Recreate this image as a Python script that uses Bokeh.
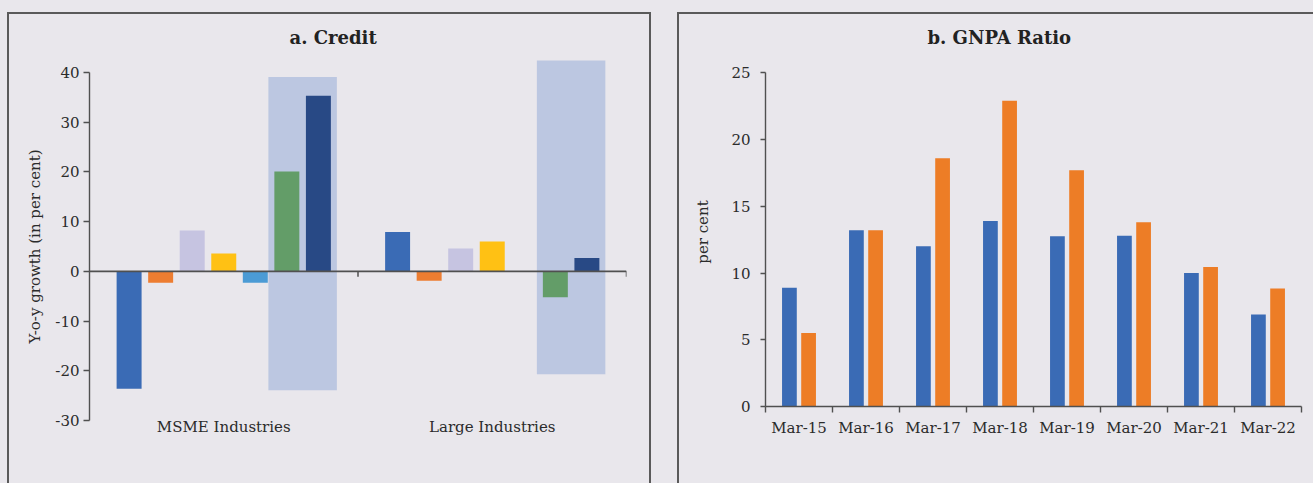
from bokeh.plotting import figure
from bokeh.layouts import row
from bokeh.models import ColumnDataSource, FixedTicker, Legend, LegendItem, Span, Range1d
from bokeh.embed import file_html
from bokeh.resources import INLINE

# ---------------- data ----------------
groups = ["MSME Industries", "Large Industries"]
credit_periods = ["Mar-16", "Mar-17", "Mar-18", "Mar-19", "Mar-20", "Mar-21", "Mar-22"]
credit_msme = [-23.6, -2.3, 8.2, 3.6, -2.3, 20.1, 35.3]
credit_large = [7.9, -1.9, 4.6, 6.0, 0.0, -5.2, 2.7]
highlight_top = [39.1, 42.4]
highlight_bottom = [-23.9, -20.7]
credit_ticks = [-30, -20, -10, 0, 10, 20, 30, 40]

gnpa_periods = ["Mar-15", "Mar-16", "Mar-17", "Mar-18", "Mar-19", "Mar-20", "Mar-21", "Mar-22"]
gnpa_msme = [8.9, 13.2, 12.0, 13.9, 12.75, 12.8, 10.0, 6.9]
gnpa_large = [5.5, 13.2, 18.6, 22.9, 17.7, 13.8, 10.45, 8.85]
gnpa_ticks = [0, 5, 10, 15, 20, 25]

credit_colors = ["#3A6BB5", "#ED7D31", "#C6C4E1", "#FFC114", "#4B9BD5", "#70AD47", "#1F3A6E"]
gnpa_colors = ["#3A6BB5", "#ED7D26"]

BG = "#E9E7EC"
FONT = "DejaVu Serif"
TXT = "#2b2b2b"
AX = "#505050"


def style_title(p, shift):
    p.title.text_font = FONT
    p.title.text_font_size = "18px"
    p.title.text_font_style = "bold"
    p.title.text_color = "#222222"
    p.title.align = "left"
    p.title.offset = shift
    try:
        p.title.standoff = p.title.standoff + 10
    except Exception:
        pass


# ---------------- panel a ----------------
p1 = figure(frame_width=537, frame_height=378, x_range=Range1d(0, len(groups)), y_range=Range1d(-33, 43),
            output_backend="svg", toolbar_location=None,
            min_border_left=80, min_border_right=23, min_border_top=42, min_border_bottom=80,
            background_fill_color=BG, border_fill_color=BG, outline_line_color=None,
            title="a. Credit")
style_title(p1, 200)

step = 0.1175
bw = 0.093
n = len(credit_periods)
items1 = []
for i, per in enumerate(credit_periods):
    off = (i - (n - 1) / 2) * step
    src = ColumnDataSource(dict(x=[k + 0.5 + off for k in range(len(groups))],
                                top=[credit_msme[i], credit_large[i]]))
    r = p1.vbar(x="x", top="top", bottom=0, width=bw, source=src,
                fill_color=credit_colors[i], line_color=None)
    items1.append(LegendItem(label=per, renderers=[r]))

off5 = (5 - (n - 1) / 2) * step
off6 = (6 - (n - 1) / 2) * step
hsrc = ColumnDataSource(dict(x=[k + 0.5 + (off5 + off6) / 2 for k in range(len(groups))],
                             top=highlight_top, bottom=highlight_bottom))
p1.vbar(x="x", top="top", bottom="bottom", width=2 * step + 0.02, source=hsrc,
        fill_color="#4472C4", fill_alpha=0.27, line_color=None)

p1.add_layout(Span(location=0, dimension="width", line_color=AX, line_width=1.8))
p1.segment(x0=list(range(1, len(groups) + 1)), y0=0, x1=list(range(1, len(groups) + 1)), y1=-1.1,
           line_color=AX, line_width=1.5)

p1.xgrid.visible = False
p1.ygrid.visible = False

xa = p1.xaxis[0]
xa.ticker = FixedTicker(ticks=[k + 0.5 for k in range(len(groups))])
xa.major_label_overrides = {k + 0.5: g for k, g in enumerate(groups)}
xa.axis_line_color = None
xa.major_tick_line_color = None
xa.major_tick_out = 0
xa.major_tick_in = 0
xa.minor_tick_line_color = None
xa.major_label_standoff = -18
xa.major_label_text_font = FONT
xa.major_label_text_font_size = "15px"
xa.major_label_text_color = TXT

ya = p1.yaxis[0]
ya.bounds = (credit_ticks[0], credit_ticks[-1])
ya.ticker = FixedTicker(ticks=credit_ticks)
ya.major_label_overrides = {t: str(t) for t in credit_ticks}
ya.axis_line_color = AX
ya.axis_line_width = 1.4
ya.major_tick_line_color = AX
ya.major_tick_line_width = 1.4
ya.major_tick_out = 6
ya.major_tick_in = 0
ya.minor_tick_line_color = None
ya.major_label_standoff = 4
ya.major_label_text_font = FONT
ya.major_label_text_font_size = "15px"
ya.major_label_text_color = TXT
ya.axis_label = "Y-o-y growth (in per cent)"
ya.axis_label_text_font = FONT
ya.axis_label_text_font_size = "15px"
ya.axis_label_text_font_style = "normal"
ya.axis_label_text_color = TXT
ya.axis_label_standoff = 8

leg1 = Legend(items=items1, orientation="horizontal", location=(-60, -38),
              glyph_width=9, glyph_height=9, label_standoff=4, spacing=22, label_height=20,
              padding=0, margin=0, background_fill_alpha=0, border_line_color=None,
              label_text_font=FONT, label_text_font_size="15px", label_text_color=TXT)
p1.add_layout(leg1)

# ---------------- panel b ----------------
m = len(gnpa_periods)
p2 = figure(frame_width=536, frame_height=349, x_range=Range1d(0, m), y_range=Range1d(0, 26.15),
            output_backend="svg", toolbar_location=None,
            min_border_left=86, min_border_right=12, min_border_top=42, min_border_bottom=80,
            background_fill_color=BG, border_fill_color=BG, outline_line_color=None,
            title="b. GNPA Ratio")
style_title(p2, 162)

bw2 = 0.22
off2 = 0.143
items2 = []
for j, (lab, vals) in enumerate([("MSME Industries", gnpa_msme), ("Large Industries", gnpa_large)]):
    src = ColumnDataSource(dict(x=[k + 0.5 + (off2 if j else -off2) for k in range(m)], top=vals))
    r = p2.vbar(x="x", top="top", bottom=0, width=bw2, source=src,
                fill_color=gnpa_colors[j], line_color=None)
    items2.append(LegendItem(label=lab, renderers=[r]))

p2.xgrid.visible = False
p2.ygrid.visible = False

xb = p2.xaxis[0]
xb.ticker = FixedTicker(ticks=[k + 0.5 for k in range(m)], minor_ticks=list(range(0, m + 1)))
xb.major_label_overrides = {k + 0.5: g for k, g in enumerate(gnpa_periods)}
xb.axis_line_color = AX
xb.axis_line_width = 1.6
xb.major_tick_line_color = None
xb.minor_tick_line_color = AX
xb.minor_tick_line_width = 1.4
xb.minor_tick_out = 6
xb.minor_tick_in = 0
xb.major_label_standoff = 6
xb.major_label_text_font = FONT
xb.major_label_text_font_size = "15px"
xb.major_label_text_color = TXT

yb = p2.yaxis[0]
yb.bounds = (gnpa_ticks[0], gnpa_ticks[-1])
yb.ticker = FixedTicker(ticks=gnpa_ticks)
yb.axis_line_color = AX
yb.axis_line_width = 1.4
yb.major_tick_line_color = AX
yb.major_tick_line_width = 1.4
yb.major_tick_out = 5
yb.major_tick_in = 0
yb.minor_tick_line_color = None
yb.major_label_standoff = 10
yb.major_label_text_font = FONT
yb.major_label_text_font_size = "15px"
yb.major_label_text_color = TXT
yb.axis_label = "per cent"
yb.axis_label_text_font = FONT
yb.axis_label_text_font_size = "15px"
yb.axis_label_text_font_style = "normal"
yb.axis_label_text_color = TXT
yb.axis_label_standoff = 16

leg2 = Legend(items=items2, orientation="horizontal", location=(88, -67),
              glyph_width=9, glyph_height=9, label_standoff=5, spacing=22, label_height=20,
              padding=0, margin=0, background_fill_alpha=0, border_line_color=None,
              label_text_font=FONT, label_text_font_size="15px", label_text_color=TXT)
p2.add_layout(leg2)

layout = row(p1, p2, spacing=30)
html = file_html(layout, INLINE)
css = ("<style>html,body{overflow:hidden;}body{margin:0;padding:14px 0 0 9px;background:#E9E7EC;}"
       ".pbox{position:absolute;border:2px solid #5a5a5a;border-bottom:none;pointer-events:none;}"
       "</style>")
html = html.replace("</head>", css + "</head>", 1)
boxes = ('<div class="pbox" style="left:7px;top:12px;width:640px;height:469px;"></div>'
         '<div class="pbox" style="left:677px;top:12px;width:634px;height:469px;border-right:none;"></div>')
html = html.replace("</body>", boxes + "</body>", 1)
open("out.html", "w").write(html)
